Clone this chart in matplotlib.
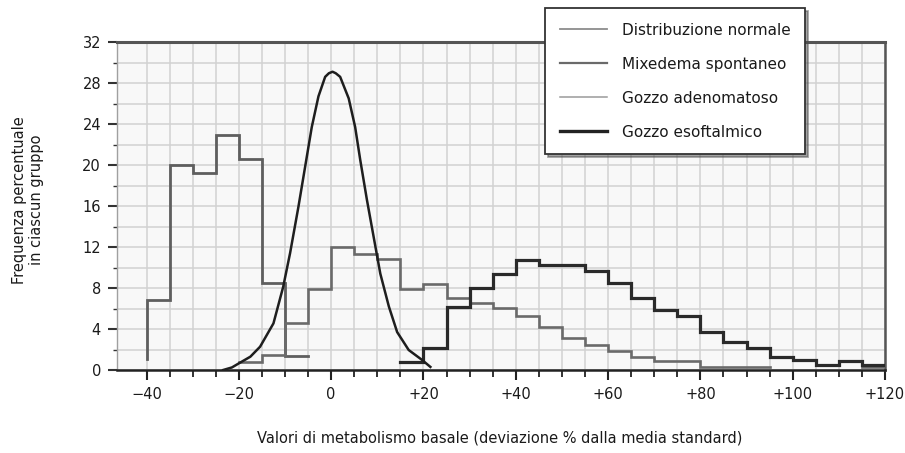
import numpy as np
import matplotlib
matplotlib.use("Agg")
import matplotlib.pyplot as plt
from matplotlib.lines import Line2D
from matplotlib.ticker import FixedLocator

plt.rcParams['font.family'] = ['DejaVu Sans']

# bordi delle classi (5 unità) e frequenze
mix_edges = np.arange(-40, -4, 5)
mix_vals = [6.8, 20.0, 19.2, 22.9, 20.6, 8.5, 1.37]
mix_start = 1.1

ade_edges = np.arange(-20, 121, 5)
ade_vals = [0.8, 1.5, 4.6, 7.9, 12.0, 11.3, 10.8, 7.9, 8.4, 7.05, 6.5, 6.05,
            5.3, 4.15, 3.1, 2.4, 1.9, 1.3, 0.9, 0.9, 0.33, 0.33, 0.33,
            np.nan, np.nan, np.nan, np.nan, 0.3]

eso_edges = np.arange(15, 121, 5)
eso_vals = [0.8, 2.1, 6.1, 8.0, 9.4, 10.7, 10.2, 10.2, 9.7, 8.5, 7.0, 5.85,
            5.25, 3.67, 2.76, 2.1, 1.3, 0.98, 0.52, 0.88, 0.46]

# curva della distribuzione normale
norm_x = [-23.4, -21.5, -19.8, -17.5, -15.4, -12.5, -10.4, -8.9, -7.1, -5.65,
          -4.2, -2.75, -1.3, -0.5, 0.3, 1.0, 1.95, 3.8, 5.2, 6.3, 7.75, 9.2,
          10.65, 12.5, 14.3, 16.8, 19.7, 21.5]
norm_y = [0.0, 0.25, 0.7, 1.3, 2.27, 4.55, 8.1, 11.4, 15.9, 19.8,
          23.7, 26.7, 28.6, 28.95, 29.1, 28.95, 28.6, 26.5, 23.7, 20.5, 16.6, 13.0,
          9.4, 6.2, 3.7, 1.95, 0.98, 0.3]

xticks = [-40, -20, 0, 20, 40, 60, 80, 100, 120]
xticklabels = ['\u221240', '\u221220', '0', '+20', '+40', '+60', '+80', '+100', '+120']
yticks = [0, 4, 8, 12, 16, 20, 24, 28, 32]

labels = ['Distribuzione normale', 'Mixedema spontaneo',
          'Gozzo adenomatoso', 'Gozzo esoftalmico']


def step_xy(edges, vals):
    # ogni classe diventa un segmento orizzontale
    xs, ys = [], []
    for i, v in enumerate(vals):
        xs += [edges[i], edges[i] + 5]
        ys += [v, v]
    return np.array(xs, dtype=float), np.array(ys, dtype=float)


fig = plt.figure(figsize=(9.05, 4.53), dpi=100)
ax = fig.add_axes([117/905, 1-370/453, 768/905, 328/453])
ax.set_facecolor('#f8f8f8')

x, y = step_xy(mix_edges, mix_vals)
x = np.concatenate([[mix_edges[0]], x])
y = np.concatenate([[mix_start], y])
ax.plot(x, y, color='#5e5e5e', lw=2.0, solid_joinstyle='miter', zorder=3)

x, y = step_xy(ade_edges, ade_vals)
ax.plot(x, y, color='#6a6a6a', lw=1.9, solid_joinstyle='miter', zorder=3)

x, y = step_xy(eso_edges, eso_vals)
ax.plot(x, y, color='#2a2a2a', lw=2.3, solid_joinstyle='miter', zorder=4)

ax.plot(norm_x, norm_y, color='#1e1e1e', lw=1.8, zorder=5,
        solid_joinstyle='round')

ax.set_xlim(-46.4, 120)
ax.set_ylim(0, 32)

ax.xaxis.set_major_locator(FixedLocator(xticks))
ax.xaxis.set_minor_locator(FixedLocator(np.arange(-40, 121, 5)))
ax.set_xticklabels(xticklabels)
ax.yaxis.set_major_locator(FixedLocator(yticks))
ax.yaxis.set_minor_locator(FixedLocator(np.arange(0, 33, 2)))

ax.grid(which='minor', color='#d2d2d2', lw=1.1, zorder=0)
ax.grid(which='major', color='#d2d2d2', lw=1.1, zorder=0)
ax.set_axisbelow(True)

ax.tick_params(axis='x', which='major', direction='out', length=7.5, width=1.5,
               color='#222222', pad=5, labelsize=10.5, labelcolor='#1a1a1a')
ax.tick_params(axis='x', which='minor', direction='out', length=5, width=1.3,
               color='#222222')
ax.tick_params(axis='y', which='major', direction='out', length=6.5, width=1.5,
               color='#333333', pad=5, labelsize=10.5, labelcolor='#1a1a1a')
ax.tick_params(axis='y', which='minor', direction='out', length=3, width=1.0,
               color='#333333')

ax.spines['top'].set_color('#555555')
ax.spines['top'].set_linewidth(2.2)
ax.spines['right'].set_color('#555555')
ax.spines['right'].set_linewidth(1.8)
ax.spines['bottom'].set_color('#222222')
ax.spines['bottom'].set_linewidth(1.8)
ax.spines['left'].set_color('#a0a0a0')
ax.spines['left'].set_linewidth(1.0)

fig.text(28/905, 1-200/453, 'Frequenza percentuale\nin ciascun gruppo',
         rotation=90, ha='center', va='center', multialignment='center',
         fontsize=10.5, color='#1a1a1a')
fig.text(500/905, 1-438/453,
         'Valori di metabolismo basale (deviazione % dalla media standard)',
         ha='center', va='center', fontsize=10.5, color='#1a1a1a')

handles = [Line2D([], [], color='#8c8c8c', lw=1.3),
           Line2D([], [], color='#6a6a6a', lw=1.6),
           Line2D([], [], color='#9a9a9a', lw=1.1),
           Line2D([], [], color='#222222', lw=2.4)]
leg = fig.legend(handles, labels, loc='upper left',
                 bbox_to_anchor=(545/905, 1-8/453), borderaxespad=0,
                 fancybox=False, shadow=True, framealpha=1, edgecolor='#333333',
                 fontsize=11, handlelength=3.1, handletextpad=1.0,
                 labelspacing=1.25, borderpad=0.95)
leg.get_frame().set_linewidth(1.3)
for t in leg.get_texts():
    t.set_color('#1a1a1a')

fig.savefig('out.png', dpi=100)
